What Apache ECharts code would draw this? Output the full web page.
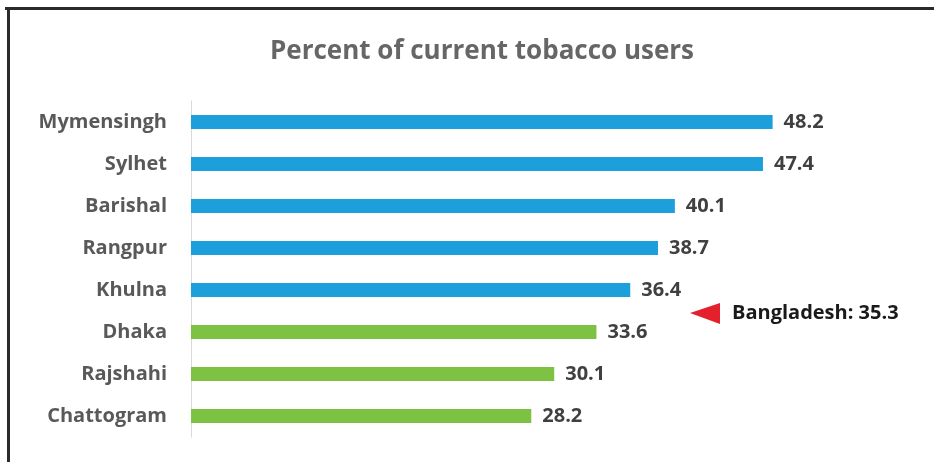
<!DOCTYPE html>
<html>
<head>
<meta charset="utf-8">
<script src="https://cdn.jsdelivr.net/npm/echarts@6/dist/echarts.min.js"></script>
<style>
  html, body { margin: 0; padding: 0; background: #fff; }
  #chart { width: 934px; height: 462px; }
</style>
</head>
<body>
<div id="chart"></div>
<script>
// Divisions, listed from top to bottom
const divisions = ['Mymensingh', 'Sylhet', 'Barishal', 'Rangpur', 'Khulna', 'Dhaka', 'Rajshahi', 'Chattogram'];
// Percent of current tobacco users in each division
const tobaccoUse = [48.2, 47.4, 40.1, 38.7, 36.4, 33.6, 30.1, 28.2];
// National figure
const nationalLabel = 'Bangladesh';
const nationalValue = 35.3;

const BLUE = '#1C9FDB';
const GREEN = '#7DC243';
const FONT = '"Open Sans", sans-serif';

const chart = echarts.init(document.getElementById('chart'), null, { renderer: 'canvas' });

chart.setOption({
  backgroundColor: '#fff',
  animation: false,
  title: {
    text: 'Percent of current tobacco users',
    left: 477,
    textAlign: 'center',
    top: 34,
    textStyle: { fontFamily: FONT, fontWeight: 'bold', fontSize: 26, color: '#666' }
  },
  grid: { left: 191, right: 19, top: 101, bottom: 25, containLabel: false },
  xAxis: {
    type: 'value', min: 0, max: 60,
    show: false
  },
  yAxis: {
    type: 'category',
    data: divisions,
    inverse: true,
    axisLine: { show: true, lineStyle: { color: '#d9d9d9', width: 1 } },
    axisTick: { show: false },
    axisLabel: {
      margin: 24,
      fontFamily: FONT, fontWeight: 'bold', fontSize: 20, color: '#595959'
    }
  },
  series: [{
    type: 'bar',
    barWidth: 14,
    data: tobaccoUse.map(v => ({
      value: v,
      itemStyle: { color: v > nationalValue ? BLUE : GREEN }
    })),
    label: {
      show: true, position: 'right', distance: 11,
      fontFamily: FONT, fontWeight: 'bold', fontSize: 20, color: '#404040',
      formatter: p => p.value.toFixed(1)
    }
  }],
  graphic: [
    // frame lines along the top and left edges
    { type: 'rect', shape: { x: 5, y: 7, width: 929, height: 3 }, style: { fill: '#2b2b2b' } },
    { type: 'rect', shape: { x: 7, y: 7, width: 3, height: 455 }, style: { fill: '#2b2b2b' } },
    // national average marker
    { type: 'polygon', shape: { points: [[690, 313], [720, 303], [720, 324]] }, style: { fill: '#E3202B' } },
    {
      type: 'text', x: 732, y: 313,
      style: {
        text: nationalLabel + ': ' + nationalValue.toFixed(1),
        font: 'bold 20px ' + FONT, fill: '#1a1a1a',
        textVerticalAlign: 'middle', verticalAlign: 'middle'
      }
    }
  ]
});
</script>
</body>
</html>
